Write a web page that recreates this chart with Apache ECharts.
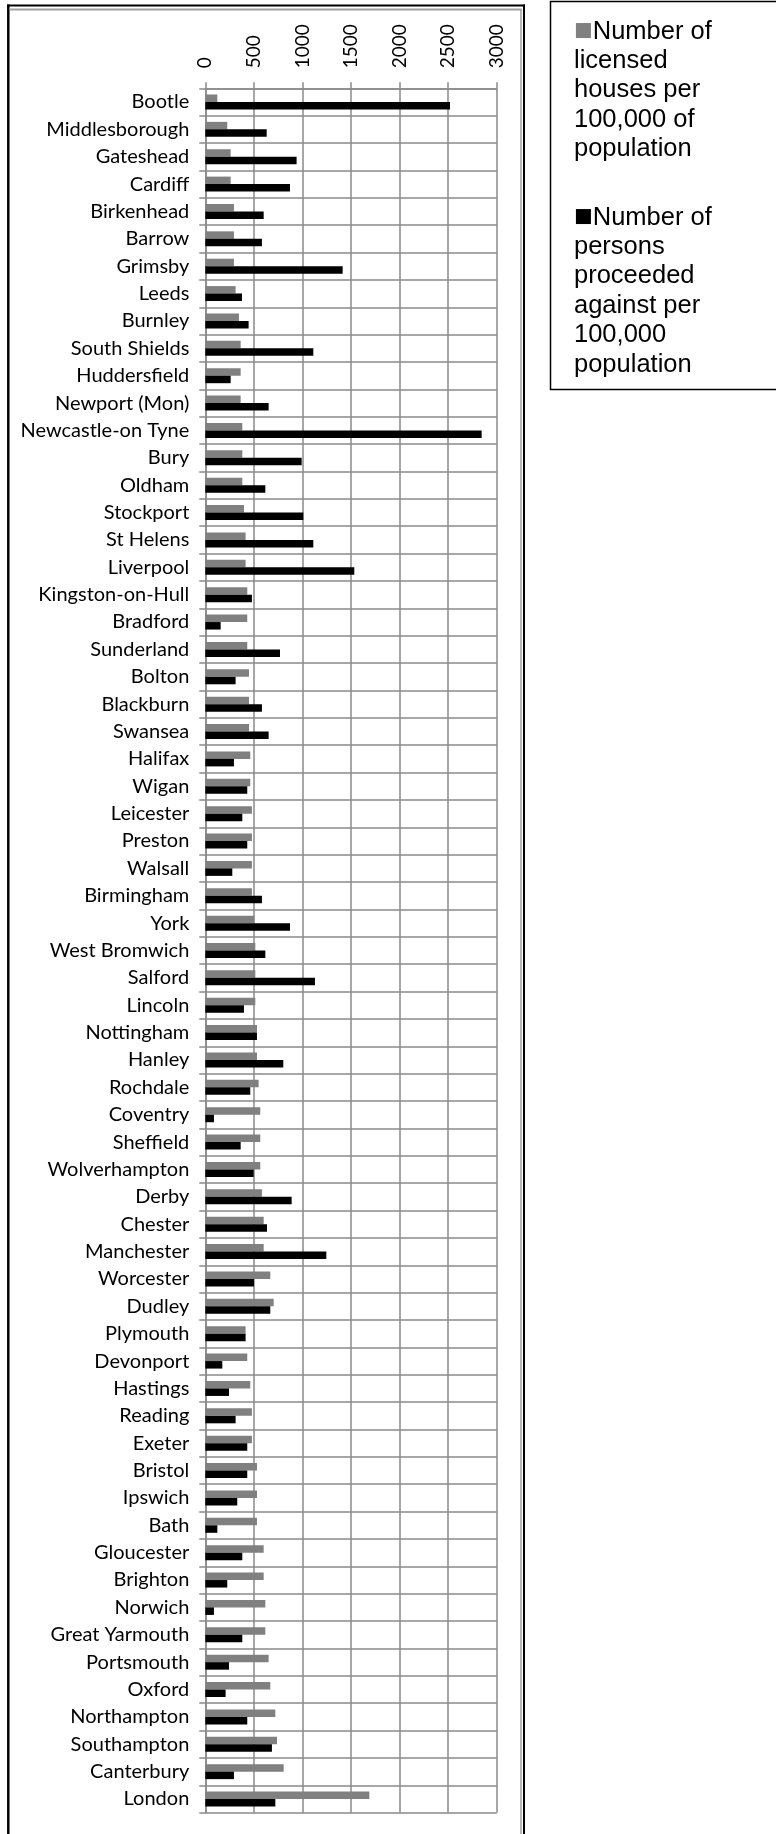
<!DOCTYPE html>
<html>
<head>
<meta charset="utf-8">
<title>echarts</title>
<script src="https://cdn.jsdelivr.net/npm/echarts/dist/echarts.min.js"></script>
</head>
<style>
body{margin:0;background:#fff;}
#container{
    width:776px;
    height:1834px;
}
</style>
<body>
<div id="container"></div>
<script>
    var cities = ['Bootle','Middlesborough','Gateshead','Cardiff','Birkenhead','Barrow','Grimsby','Leeds','Burnley','South Shields',
        'Huddersfield','Newport (Mon)','Newcastle-on Tyne','Bury','Oldham','Stockport','St Helens','Liverpool','Kingston-on-Hull','Bradford',
        'Sunderland','Bolton','Blackburn','Swansea','Halifax','Wigan','Leicester','Preston','Walsall','Birmingham',
        'York','West Bromwich','Salford','Lincoln','Nottingham','Hanley','Rochdale','Coventry','Sheffield','Wolverhampton',
        'Derby','Chester','Manchester','Worcester','Dudley','Plymouth','Devonport','Hastings','Reading','Exeter',
        'Bristol','Ipswich','Bath','Gloucester','Brighton','Norwich','Great Yarmouth','Portsmouth','Oxford','Northampton',
        'Southampton','Canterbury','London'];
    // licensed houses per 100,000 of population
    var licensed = [124,226,261,261,295,295,295,312,347,364,
        364,364,381,381,381,398,415,415,432,432,
        432,450,450,450,463,463,480,480,480,480,
        504,515,515,515,532,532,549,566,566,566,
        583,601,601,669,704,415,432,463,480,480,
        532,532,532,601,601,618,618,652,669,721,
        738,807,1689];
    // persons proceeded against per 100,000 population
    var proceeded = [2519,632,940,872,601,583,1414,378,446,1112,
        261,652,2845,992,618,1009,1112,1534,480,158,
        769,312,583,652,295,432,381,432,278,583,
        872,618,1129,398,532,803,463,89,364,498,
        889,635,1246,501,669,415,175,244,312,432,
        432,329,124,381,226,89,381,244,209,432,
        686,295,721];
    var name1 = 'Number of licensed houses per 100,000 of population';
    var name2 = 'Number of persons proceeded against per 100,000 population';
    var lines1 = ['Number of','licensed','houses per','100,000 of','population'];
    var lines2 = ['Number of','persons','proceeded','against per','100,000','population'];

    var gridColor = '#8a8a8a';
    var labelFont = 'Lato';

    function legendBox(name, lines, color, top){
        return {
            data:[name],
            orient:'vertical',
            left:564,
            top:top,
            icon:'none',
            itemWidth:0,
            itemHeight:0,
            selectedMode:false,
            formatter:function(){
                return '{m|■}' + lines.join('\n');
            },
            textStyle:{
                fontFamily:'Liberation Sans',
                fontSize:25.5,
                lineHeight:29.4,
                color:'#000',
                rich:{
                    m:{color:color, fontSize:31, lineHeight:29.4, fontFamily:'Liberation Sans'}
                }
            }
        };
    }

    var option = {
        animation:false,
        backgroundColor:'#fff',
        grid:{
            left:205.3,
            right:279.3,
            top:88.3,
            bottom:21.3
        },
        legend:[
            legendBox(name1, lines1, '#808080', 11),
            legendBox(name2, lines2, '#000', 197)
        ],
        xAxis:{
            type:'value',
            position:'top',
            min:0,
            max:3000,
            interval:500,
            axisLine:{show:true, lineStyle:{color:gridColor, width:1.5}},
            axisTick:{show:true, length:6, lineStyle:{color:gridColor, width:1.5}},
            splitLine:{show:true, lineStyle:{color:gridColor, width:1.5}},
            axisLabel:{
                rotate:-90,
                margin:20,
                color:'#000',
                fontFamily:labelFont,
                fontSize:19,
                formatter:function(v){ return String(v); }
            }
        },
        yAxis:{
            type:'category',
            inverse:true,
            data:cities,
            axisLine:{show:true, lineStyle:{color:gridColor, width:1.5}},
            axisTick:{show:true, length:6, interval:0, lineStyle:{color:gridColor, width:1.5}},
            splitLine:{show:true, interval:0, lineStyle:{color:gridColor, width:1.5}},
            axisLabel:{
                interval:0,
                margin:16,
                color:'#000',
                fontFamily:labelFont,
                fontSize:20
            }
        },
        series:[
            {
                name:name1,
                type:'bar',
                barWidth:7.5,
                barGap:'0%',
                itemStyle:{color:'#808080'},
                data:licensed
            },
            {
                name:name2,
                type:'bar',
                barWidth:7.5,
                barGap:'0%',
                itemStyle:{color:'#000'},
                data:proceeded
            }
        ],
        graphic:[
            // chart frame
            {type:'line', silent:true, shape:{x1:7, y1:5.5, x2:525, y2:5.5}, style:{stroke:'#000', lineWidth:2}},
            {type:'line', silent:true, shape:{x1:8.3, y1:4.5, x2:8.3, y2:1834}, style:{stroke:'#000', lineWidth:2.5}},
            {type:'line', silent:true, shape:{x1:524, y1:4.5, x2:524, y2:1834}, style:{stroke:'#000', lineWidth:2}},
            {type:'line', silent:true, shape:{x1:9.5, y1:9.5, x2:521.5, y2:9.5}, style:{stroke:'#a0a0a0', lineWidth:2}},
            {type:'line', silent:true, shape:{x1:521, y1:9, x2:521, y2:1834}, style:{stroke:'#a0a0a0', lineWidth:1.5}},
            // legend frame
            {type:'rect', silent:true, shape:{x:550.5, y:1.5, width:260, height:388}, style:{fill:'none', stroke:'#000', lineWidth:1.5}}
        ]
    };
    var myChart = echarts.init(document.getElementById('container'));
    myChart.setOption(option, true);
</script>
</body>
</html>
